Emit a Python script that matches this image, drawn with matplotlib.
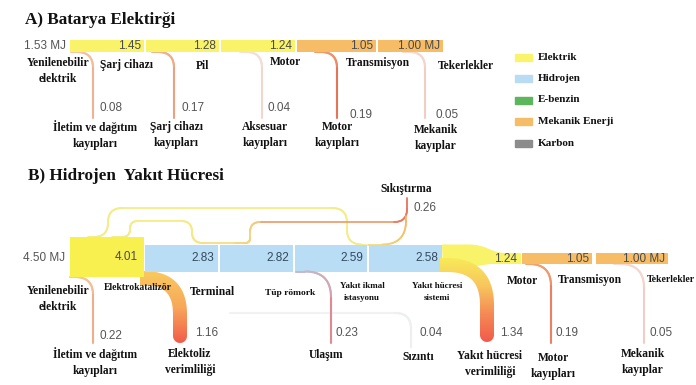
import numpy as np
import matplotlib.pyplot as plt
from matplotlib.collections import LineCollection
from matplotlib.patches import Polygon, PathPatch, Rectangle
from matplotlib.path import Path
from matplotlib.colors import LinearSegmentedColormap

# ---- A) battery electric ----
a_flow = [1.53, 1.45, 1.28, 1.24, 1.05, 1.00]
a_nodes = ['Yenilenebilir\nelektrik', 'Şarj cihazı', 'Pil', 'Motor', 'Transmisyon', 'Tekerlekler']
a_loss = [0.08, 0.17, 0.04, 0.19, 0.05]
a_loss_names = ['İletim ve dağıtım\nkayıpları', 'Şarj cihazı\nkayıpları', 'Aksesuar\nkayıpları',
                'Motor\nkayıpları', 'Mekanik\nkayıplar']

# ---- B) hydrogen fuel cell ----
b_flow = [4.50, 4.01, 2.83, 2.82, 2.59, 2.58, 1.24, 1.05, 1.00]
b_nodes = ['Yenilenebilir\nelektrik', 'Elektrokatalizör', 'Terminal', 'Tüp römork', 'Yakıt ikmal\nistasyonu',
           'Yakıt hücresi\nsistemi', 'Motor', 'Transmisyon', 'Tekerlekler']
b_loss = [0.22, 1.16, 0.23, 0.04, 1.34, 0.19, 0.05]
b_loss_names = ['İletim ve dağıtım\nkayıpları', 'Elektoliz\nverimliliği', 'Ulaşım', 'Sızıntı',
                'Yakıt hücresi\nverimliliği', 'Motor\nkayıpları', 'Mekanik\nkayıplar']
b_comp = 0.26
b_comp_name = 'Sıkıştırma'

legend_names = ['Elektrik', 'Hidrojen', 'E-benzin', 'Mekanik Enerji', 'Karbon']
legend_colors = ['#faf36c', '#b9dcf3', '#5db55d', '#f6bd68', '#8c8c8c']

YEL, BLUE, ORA = '#f9f36a', '#b9ddf4', '#f7bd66'
SERIF = 'Liberation Serif'
SANS = 'Liberation Sans'

fig = plt.figure(figsize=(6.96, 3.85), dpi=100)
ax = fig.add_axes([0, 0, 1, 1])
ax.axis('off')


def route(pts, r, n=24):
    # orthogonal polyline with rounded corners
    pts = [np.array(p, float) for p in pts]
    out = [pts[0]]
    last = len(pts) - 1
    for i in range(1, last):
        p0, p1, p2 = pts[i - 1], pts[i], pts[i + 1]
        l1, l2 = np.linalg.norm(p1 - p0), np.linalg.norm(p2 - p1)
        d1, d2 = (p1 - p0) / l1, (p2 - p1) / l2
        rr = min(r, l1 if i - 1 == 0 else l1 / 2, l2 if i + 1 == last else l2 / 2)
        a, b = p1 - d1 * rr, p1 + d2 * rr
        t = np.linspace(0, 1, n)[:, None]
        out.extend((1 - t) ** 2 * a + 2 * (1 - t) * t * p1 + t ** 2 * b)
    out.append(pts[-1])
    out = np.array(out)
    keep = np.r_[True, np.hypot(*np.diff(out, axis=0).T) > 1e-6]
    return out[keep]


def grad_line(pts, r, colors, lw=1.4, z=2):
    c = route(pts, r)
    d = np.r_[0, np.cumsum(np.hypot(*np.diff(c, axis=0).T))]
    f = d / d[-1]
    cmap = LinearSegmentedColormap.from_list('g', colors)
    segs = np.stack([c[:-1], c[1:]], axis=1)
    lc = LineCollection(segs, colors=cmap((f[:-1] + f[1:]) / 2), linewidths=lw,
                        capstyle='round', joinstyle='round', zorder=z)
    ax.add_collection(lc)


def grad_band(pts, r, w, colors, z=1):
    c = route(pts, r)
    tg = np.gradient(c, axis=0)
    tg /= np.linalg.norm(tg, axis=1)[:, None]
    nm = np.c_[-tg[:, 1], tg[:, 0]]
    left, right = c + nm * w / 2, c - nm * w / 2
    th = np.linspace(0, np.pi, 20)[:, None]
    cap = c[-1] + nm[-1] * w / 2 * np.cos(th) + tg[-1] * w / 2 * np.sin(th)
    poly = Polygon(np.vstack([left, cap, right[::-1]]), closed=True, fc='none', ec='none')
    ax.add_patch(poly)
    y0, y1 = poly.get_xy()[:, 1].min(), poly.get_xy()[:, 1].max()
    x0, x1 = poly.get_xy()[:, 0].min(), poly.get_xy()[:, 0].max()
    cmap = LinearSegmentedColormap.from_list('b', colors)
    grad = np.linspace(0, 1, 200)[:, None]
    im = ax.imshow(grad, cmap=cmap, extent=(x0, x1, y1, y0), origin='upper',
                   aspect='auto', zorder=z, interpolation='bilinear')
    im.set_clip_path(poly)


def txt(x, y, s, size=8.3, ha='center', fam=SERIF, weight='bold', color='#111111', ls=1.35):
    ax.text(x, y, s, fontsize=size, ha=ha, va='center', family=fam, fontweight=weight,
            color=color, linespacing=ls, zorder=5)


def num(x, y, s, ha='right', color='#4a4a4a'):
    txt(x, y, s, size=8.5, ha=ha, fam=SANS, weight='normal', color=color)


# ================= A =================
txt(25, 20, 'A) Batarya Elektirği', size=12.3, ha='left')
a_seg = [(70, 144), (146, 219), (221, 295), (297, 376), (378, 443)]
a_col = [YEL, YEL, YEL, ORA, ORA]
a_y, a_h = 46, 12
for (x0, x1), col in zip(a_seg, a_col):
    ax.barh(a_y, x1 - x0, left=x0, height=a_h, color=col, zorder=3)
for (x0, x1), v in zip(a_seg, a_flow[1:]):
    lab = f'{v:.2f}' + (' MJ' if v == a_flow[-1] else '')
    num(x1 - 3, a_y, lab)
num(66, a_y, f'{a_flow[0]:.2f} MJ', color='#555555')

a_node_xy = [(58, 71), (127, 65), (203, 66), (285, 62), (378, 63), (466, 66)]
for (x, y), s in zip(a_node_xy, a_nodes):
    txt(x, y, s, ls=1.5)

a_loss_x = [93, 174, 262, 337, 425]
a_loss_col = [['#f5c8a8', '#eea88a'], ['#f0b890', '#e9957a'], ['#f5e2da', '#efd2c8'],
              ['#f2a070', '#e0604e'], ['#f6dcd4', '#efc8bd']]
for x, c in zip(a_loss_x, a_loss_col):
    grad_line([(x - 22, a_y + a_h / 2), (x, a_y + a_h / 2), (x, 118)], 16, c, lw=1.5)
a_lv_xy = [(100, 108), (181, 108), (268, 108), (350, 115), (435, 115)]
for (x, y), v in zip(a_lv_xy, a_loss):
    num(x, y, f'{v:.2f}', ha='left', color='#555555')
a_ln_xy = [(95, 135), (176, 135), (265, 135), (337, 135), (436, 138)]
for (x, y), s in zip(a_ln_xy, a_loss_names):
    txt(x, y, s, ls=1.5)

# legend
for i, (nm, col) in enumerate(zip(legend_names, legend_colors)):
    y = 57 + i * 21.5
    ax.add_patch(Rectangle((515, y - 3.5), 17, 7, color=col, zorder=3))
    txt(538, y, nm, size=8.0, ha='left')

# ================= B =================
txt(28, 176, 'B) Hidrojen  Yakıt Hücresi', size=12.3, ha='left')

# top loops
grad_line([(88, 237), (108, 237), (108, 208), (347, 208), (347, 244.5), (366, 244.5)], 15,
          ['#f4ec86', '#f4ec86'], lw=1.3)
grad_line([(112, 237), (130, 237), (130, 221), (192, 221), (192, 243), (240, 243),
           (250, 243), (250, 222), (407, 222), (407, 198)], 13,
          ['#f4ec86', '#f4ec86', '#f2cf80', '#ec9a72', '#e8705c'], lw=1.3)
grad_line([(368, 244.5), (406, 244.5), (406, 216)], 24, ['#f5e27a', '#f2b566'], lw=1.3)

# faint leakage line
grad_line([(230, 313), (411, 313), (411, 347)], 16, ['#f4f5f7', '#eceef1'], lw=1.5, z=0)

# thick loss bands
grad_band([(140, 278), (180, 278), (180, 336)], 36, 14, ['#f9c95f', '#f7a85a', '#f25b4b'], z=1)
grad_band([(440, 265), (487, 265), (487, 335)], 40, 14,
          ['#f8ea58', '#f8c55e', '#f58a55', '#f25a4b'], z=4)

# input box
ax.barh(257, 144 - 70, left=70, height=40, color='#f8f04e', zorder=3)
num(138, 257, f'{b_flow[1]:.2f}')
num(65, 258, f'{b_flow[0]:.2f} MJ', color='#555555')

# hydrogen band
b_seg = [(145, 218), (220, 293), (295, 367), (369, 442)]
for (x0, x1), v in zip(b_seg, b_flow[2:6]):
    ax.barh(258, x1 - x0, left=x0, height=27, color=BLUE, zorder=2)
    num(x1 - 4, 258, f'{v:.2f}', color='#34495e')

# transition yellow to motor
verts = [(442, 244.5), (468, 244.5), (488, 244.5), (490, 253), (506, 253), (521, 253),
         (521, 264), (490, 264), (443, 271.5), (442, 244.5)]
codes = [Path.MOVETO, Path.LINETO, Path.CURVE4, Path.CURVE4, Path.CURVE4, Path.LINETO,
         Path.LINETO, Path.LINETO, Path.LINETO, Path.CLOSEPOLY]
ax.add_patch(PathPatch(Path(verts, codes), fc=YEL, ec='none', zorder=3))
num(517, 258.5, f'{b_flow[6]:.2f}')

b_oseg = [(522, 592), (596, 668)]
for (x0, x1), v in zip(b_oseg, b_flow[7:]):
    ax.barh(258.5, x1 - x0, left=x0, height=11, color=ORA, zorder=3)
    lab = f'{v:.2f}' + (' MJ' if v == b_flow[-1] else '')
    num(x1 - 3, 258.5, lab)

# thin loss lines
grad_line([(70, 277), (93, 277), (93, 343)], 18, ['#f5cda0', '#f0a080'], lw=1.5)
grad_line([(296, 271.5), (331, 271.5), (331, 343)], 26, ['#c4bccc', '#d6a2b0', '#e8727a'], lw=1.5)
grad_line([(526, 264), (551, 264), (551, 343)], 22, ['#f2a870', '#e5705e'], lw=1.5)
grad_line([(614, 264), (644, 264), (644, 343)], 24, ['#f5ddd4', '#efc9bf'], lw=1.5)

b_node_xy = [(58, 299), (138, 288), (212, 292), (290, 293), (362, 292),
             (437, 292), (522, 281), (590, 280), (671, 279)]
b_node_sz = [8.3, 6.9, 8.3, 6.8, 6.5, 6.5, 8.3, 8.3, 7.0]
for (x, y), s, sz in zip(b_node_xy, b_nodes, b_node_sz):
    txt(x, y, s, size=sz, ls=1.5)

b_lv_xy = [(100, 336), (195, 333), (336, 333), (419, 333), (500, 333), (556, 333), (650, 333)]
for (x, y), v in zip(b_lv_xy, b_loss):
    num(x, y, f'{v:.2f}', ha='left', color='#555555')
num(413, 208, f'{b_comp:.2f}', ha='left', color='#555555')
txt(406, 189, b_comp_name)

b_ln_xy = [(95, 362), (190, 362), (326, 355), (418, 357), (490, 364), (553, 366), (643, 362)]
for (x, y), s in zip(b_ln_xy, b_loss_names):
    txt(x, y, s, ls=1.5)

ax.set_xlim(0, 696)
ax.set_ylim(385, 0)
fig.savefig('out.png', dpi=100)
